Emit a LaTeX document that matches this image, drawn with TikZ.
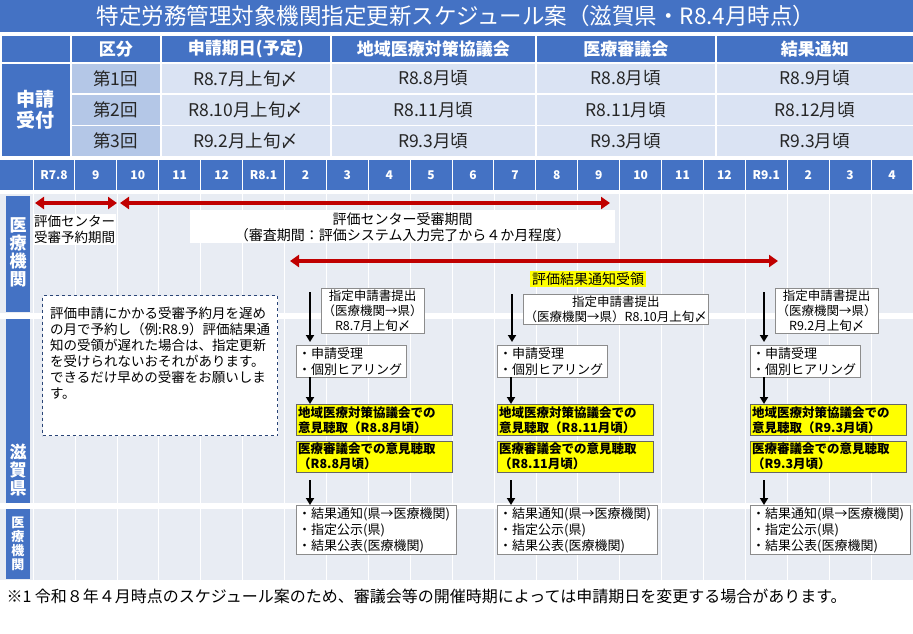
\documentclass[tikz,border=0pt]{standalone}
\usepackage{fontspec}
\setmainfont{Noto Sans CJK JP}
\usetikzlibrary{arrows.meta}
\definecolor{hb}{HTML}{4472C4}
\definecolor{lb}{HTML}{B4C7E7}
\definecolor{pb}{HTML}{DAE3F3}
\definecolor{bg}{HTML}{E8ECF3}
\definecolor{rd}{HTML}{C00000}
\definecolor{yl}{HTML}{FFFF00}
\begin{document}
\begin{tikzpicture}[x=1pt,y=-1pt,
  hd/.style={fill=hb,draw=white,line width=1.5pt,text=white,font=\fontsize{17}{19}\selectfont\bfseries},
  kc/.style={fill=lb,draw=white,line width=1.5pt,text=black!85,font=\fontsize{17.5}{19}\selectfont},
  dc/.style={fill=pb,draw=white,line width=1.5pt,text=black!85,font=\fontsize{17.5}{19}\selectfont},
  mo/.style={text=white,font=\fontsize{12}{13}\selectfont\bfseries},
  sd/.style={text=white,font=\fontsize{17}{18}\selectfont\bfseries,align=center},
  wb/.style={draw=black!45,fill=white,font=\fontsize{13}{16}\selectfont,align=left,inner sep=2pt},
  yb/.style={draw=black!60,fill=yl,font=\fontsize{12.5}{15}\selectfont\bfseries,align=left,inner sep=2pt,text width=152pt},
  ra/.style={rd,line width=3.5pt,{Triangle[length=9pt,width=12pt]}-{Triangle[length=9pt,width=12pt]}},
  ba/.style={black,line width=2pt,-{Triangle[length=7pt,width=8pt]}}]
\useasboundingbox (0,0) rectangle (913,633);
\fill[white] (0,0) rectangle (913,633);
% title
\fill[hb] (0,0) rectangle (913,32);
\node[text=white,font=\fontsize{22.5}{24}\selectfont] (title) at (456,16) {特定労務管理対象機関指定更新スケジュール案（滋賀県・R8.4月時点）};
% header
\node[hd,minimum width=70pt,minimum height=28pt,anchor=north west] (h0) at (0,34) {};
\node[hd,minimum width=90pt,minimum height=28pt,anchor=north west] (h1) at (70,34) {区分};
\node[hd,minimum width=170pt,minimum height=28pt,anchor=north west] (h2) at (160,34) {申請期日(予定)};
\node[hd,minimum width=205pt,minimum height=28pt,anchor=north west] (h3) at (330,34) {地域医療対策協議会};
\node[hd,minimum width=180pt,minimum height=28pt,anchor=north west] (h4) at (535,34) {医療審議会};
\node[hd,minimum width=198pt,minimum height=28pt,anchor=north west] (h5) at (715,34) {結果通知};
\node[hd,minimum width=70pt,minimum height=94pt,anchor=north west,align=center,font=\fontsize{19}{21}\selectfont\bfseries] (sk) at (0,62) {申請\\受付};
\foreach \r/\y/\a/\b/\c/\d in {1/62/R8.7月上旬〆/R8.8月頃/R8.8月頃/R8.9月頃,2/93.3/R8.10月上旬〆/R8.11月頃/R8.11月頃/R8.12月頃,3/124.6/R9.2月上旬〆/R9.3月頃/R9.3月頃/R9.3月頃}{
  \node[kc,minimum width=90pt,minimum height=31.3pt,anchor=north west] (k\r) at (70,\y) {第\r 回};
  \node[dc,minimum width=170pt,minimum height=31.3pt,anchor=north west] (a\r) at (160,\y) {\a};
  \node[dc,minimum width=205pt,minimum height=31.3pt,anchor=north west] (b\r) at (330,\y) {\b};
  \node[dc,minimum width=180pt,minimum height=31.3pt,anchor=north west] (c\r) at (535,\y) {\c};
  \node[dc,minimum width=198pt,minimum height=31.3pt,anchor=north west] (d\r) at (715,\y) {\d};
}
% month row
\fill[hb] (0,160) rectangle (913,190);
\fill[bg] (0,194) rectangle (913,580);
\foreach \i in {0,...,21}{\draw[white,line width=1pt] (33+\i*41.9,160) -- (33+\i*41.9,190);
  \draw[white,line width=0.6pt] (33+\i*41.9,194) -- (33+\i*41.9,580);}
\foreach \l [count=\i from 0] in {R7.8,9,10,11,12,R8.1,2,3,4,5,6,7,8,9,10,11,12,R9.1,2,3,4}
  \node[mo] (m\i) at (54+\i*41.9,175) {\l};
\fill[white] (0,313) rectangle (913,319);
\fill[white] (0,503) rectangle (913,509);
% side labels
\fill[hb] (6,196) rectangle (30,312);
\fill[hb] (6,319) rectangle (30,503);
\fill[hb] (6,509) rectangle (30,579);
\node[sd] (s1) at (18,252) {医\\療\\機\\関};
\node[sd,anchor=south] (s2) at (18,500) {滋\\賀\\県};
\node[sd,font=\fontsize{13}{14}\selectfont\bfseries] (s3) at (18,544) {医\\療\\機\\関};
% red arrows
\coordinate (r1a) at (35,203); \coordinate (r1b) at (117,203);
\coordinate (r2a) at (120,203); \coordinate (r2b) at (610,203);
\coordinate (r3a) at (290,261); \coordinate (r3b) at (778,261);
\draw[ra] (r1a) -- (r1b);
\draw[ra] (r2a) -- (r2b);
\draw[ra] (r3a) -- (r3b);
\node[fill=white,font=\fontsize{13.5}{16}\selectfont,align=left,inner sep=1pt,anchor=north west] (t1) at (33,214) {評価センター\\受審予約期間};
\node[fill=white,font=\fontsize{14}{16}\selectfont,align=center,minimum width=425pt,inner sep=2pt,anchor=north west] (t2) at (190,210) {評価センター受審期間\\（審査期間：評価システム入力完了から４か月程度）};
\node[fill=yl,font=\fontsize{14}{15}\selectfont,inner sep=2pt] (t3) at (588,279) {評価結果通知受領};
\node[draw=hb!60!black,dashed,line width=1.2pt,fill=white,minimum width=235pt,minimum height=140pt,anchor=north west,align=left,font=\fontsize{13.5}{16}\selectfont] (note) at (42,295) {評価申請にかかる受審予約月を遅め\\の月で予約し（例:R8.9）評価結果通\\知の受領が遅れた場合は、指定更新\\を受けられないおそれがあります。\\できるだけ早めの受審をお願いしま\\す。\\[10pt]};
% columns
\foreach \c/\x/\sub in {1/296/{指定申請書提出\\（医療機関→県）\\R8.7月上旬〆},3/750/{指定申請書提出\\（医療機関→県）\\R9.2月上旬〆}}{
  \node[wb,align=center,anchor=north west,inner sep=1.5pt,font=\fontsize{12.5}{15}\selectfont] (sub\c) at (\x+25,288) {\sub};
  \coordinate (aa\c) at (\x+14,292); \coordinate (ab\c) at (\x+14,342);
}
\node[wb,align=center,anchor=north west,inner sep=1.5pt,font=\fontsize{12.5}{15}\selectfont] (sub2) at (523,294) {指定申請書提出\\（医療機関→県）R8.10月上旬〆};
\coordinate (aa2) at (512,294); \coordinate (ab2) at (512,342);
\foreach \c/\x/\mon in {1/296/R8.8月頃,2/497/R8.11月頃,3/750/R9.3月頃}{
  \draw[ba] (aa\c) -- (ab\c);
  \node[wb,anchor=north west,text width=106pt] (rc\c) at (\x,345) {・申請受理\\・個別ヒアリング};
  \node[yb,anchor=north west] (y1\c) at (\x,404) {地域医療対策協議会での\\意見聴取（\mon）};
  \node[yb,anchor=north west] (y2\c) at (\x,441) {医療審議会での意見聴取\\（\mon）};
  \node[wb,anchor=north west,text width=156pt] (rs\c) at (\x,505) {・結果通知(県→医療機関)\\・指定公示(県)\\・結果公表(医療機関)};
  \draw[ba] ([xshift=14pt]rc\c.south west) -- ([xshift=14pt]y1\c.north west);
  \draw[ba] ([xshift=14pt,yshift=-8pt]y2\c.south west) -- ([xshift=14pt]rs\c.north west);
}
\node[anchor=west,font=\fontsize{16}{18}\selectfont] (fn) at (3,596) {※1\ 令和８年４月時点のスケジュール案のため、審議会等の開催時期によっては申請期日を変更する場合があります。};
\end{tikzpicture}
\end{document}
